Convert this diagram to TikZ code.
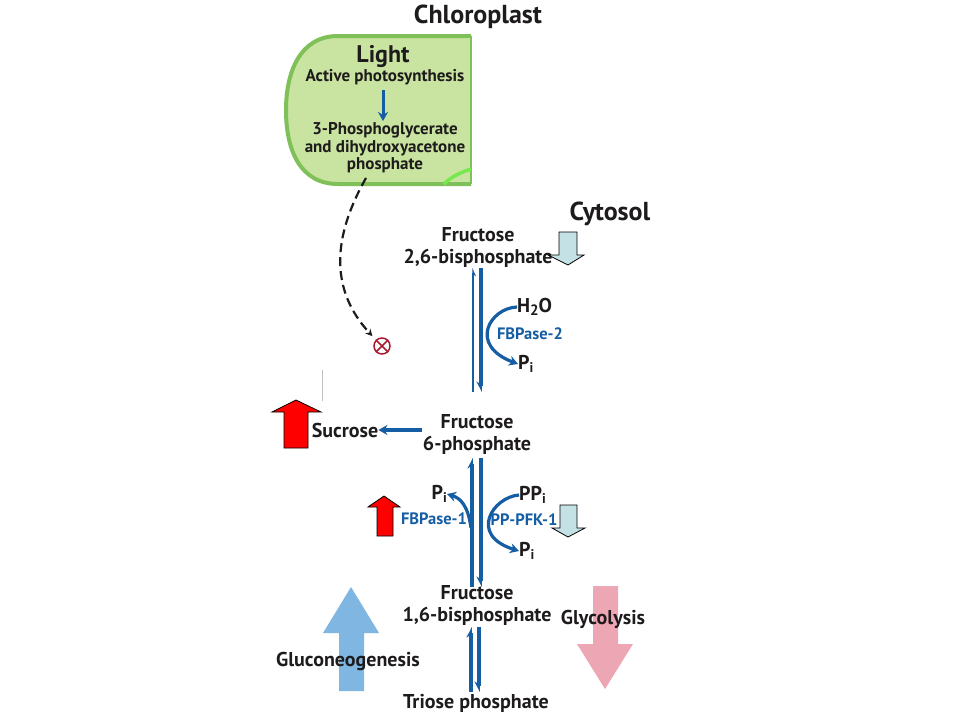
\documentclass[tikz,border=0pt]{standalone}
\usepackage{fontspec}
\setmainfont{PT Sans}
\usetikzlibrary{arrows.meta}
\definecolor{pblue}{RGB}{22,94,164}
\definecolor{txt}{RGB}{30,27,28}
\definecolor{cfill}{RGB}{200,228,160}
\definecolor{cedge}{RGB}{128,192,88}
\definecolor{cbright}{RGB}{120,232,80}
\definecolor{lcyan}{RGB}{196,226,230}
\definecolor{gblue}{RGB}{128,182,226}
\definecolor{gpink}{RGB}{236,166,180}
\definecolor{xred}{RGB}{168,28,48}
\newcommand{\subi}{\raisebox{-0.35ex}{\fontsize{14}{14}\selectfont i}}
\begin{document}
\begin{tikzpicture}[x=1pt,y=-1pt,
  lbl/.style={font=\bfseries\fontsize{20}{22}\selectfont, text=txt, inner sep=0pt, align=center},
  title/.style={font=\bfseries\fontsize{26}{28}\selectfont, text=txt, inner sep=0pt},
  small/.style={font=\bfseries\fontsize{17}{17.5}\selectfont, text=txt, inner sep=0pt, align=center},
  enz/.style={font=\bfseries\fontsize{16.5}{18}\selectfont, text=pblue, inner sep=0pt},
  thickrx/.style={draw=pblue, line width=3.2pt},
  thinrx/.style={draw=pblue, line width=1.2pt},
  harp/.style={-{Stealth[harpoon,length=9pt,width=9pt]}},
  harpsw/.style={-{Stealth[harpoon,swap,length=9pt,width=9pt]}},
  curvearr/.style={draw=pblue, line width=3.2pt, -{Stealth[length=9pt,width=10pt]}},
  redblock/.style={fill=red, draw=black, line width=0.8pt},
  cyanblock/.style={fill=lcyan, draw=black, line width=0.8pt},
]
\useasboundingbox (0,0) rectangle (960,720);

% chloroplast
\draw[line width=4pt, draw=cedge, fill=cfill]
  (471,36) -- (338,36) .. controls (300,36) and (286,72) .. (286,110)
  .. controls (286,150) and (300,184) .. (338,184) -- (471,184);
\fill[cfill] (468,38) rectangle (471,182);
\draw[line width=1.2pt, draw=cedge] (471,36) -- (471,184);
\draw[line width=3.5pt, draw=cbright] (444,184) .. controls (452,176) and (462,172) .. (471,169);

\node[title] (chl) at (478,17) {Chloroplast};
\node[font=\bfseries\fontsize{24}{26}\selectfont, text=txt, inner sep=0pt] (light) at (383,57) {Light};
\node[small] (aps) at (385,77) {Active photosynthesis};
\node[small] (pga) at (385,148) {3-Phosphoglycerate\\and dihydroxyacetone\\phosphate};
\coordinate (a1) at (383,90);
\coordinate (a2) at (383,121);
\draw[draw=pblue, line width=3pt, -{Stealth[length=9pt,width=10pt]}] (a1) -- (a2);

% cytosol
\node[title] (cyt) at (610,214) {Cytosol};
\node[lbl] (f26) at (478,247) {Fructose\\2,6-bisphosphate};
\node[lbl] (f6p) at (477,434) {Fructose\\6-phosphate};
\node[lbl] (f16) at (477,605) {Fructose\\1,6-bisphosphate};
\node[lbl] (tri) at (476,703) {Triose phosphate};
\node[lbl] (suc) at (345,430) {Sucrose};
\node[lbl, anchor=west] (h2o) at (517,307) {H\raisebox{-0.35ex}{\fontsize{15}{15}\selectfont 2}O};
\node[lbl, anchor=west] (pi1) at (518,364) {P\subi};
\node[lbl, anchor=east] (pi2) at (447,494) {P\subi};
\node[lbl, anchor=west] (ppi) at (519,495) {PP\subi};
\node[lbl, anchor=west] (pi3) at (519,551) {P\subi};
\node[enz] (fbp2) at (530,334) {FBPase-2};
\node[enz] (fbp1) at (434,519) {FBPase-1};
\node[enz] (pfk) at (524,520) {PP-PFK-1};

% dashed inhibition
\node[circle, draw=xred, line width=1.5pt, minimum size=16pt, inner sep=0pt] (inh) at (382,346) {};
\draw[xred, line width=1.5pt] (inh.north west) -- (inh.south east) (inh.north east) -- (inh.south west);
\coordinate (d0) at (366,178);
\draw[line width=2.2pt, dash pattern=on 9pt off 5pt, draw=txt, shorten >=5pt, -{Stealth[length=7pt,width=7pt]}]
  (d0) .. controls (332,238) and (330,290) .. (inh.north west);

% vertical reaction arrows
\coordinate (v1t) at (473,268); \coordinate (v1b) at (473,392);
\coordinate (v2t) at (481,268); \coordinate (v2b) at (481,392);
\draw[thinrx, -{Stealth[harpoon,swap,length=7pt,width=6pt]}] (v1b) -- (v1t);
\draw[thickrx, harpsw] (v2t) -- (v2b);
\draw[curvearr] (h2o.west) .. controls (490,308) and (468,345) .. (pi1.west);

\coordinate (w1t) at (472,458); \coordinate (w1b) at (472,587);
\coordinate (w2t) at (481,458); \coordinate (w2b) at (481,587);
\draw[thickrx, harp] (w1b) -- (w1t);
\draw[thickrx, harpsw] (w2t) -- (w2b);
\coordinate (c1) at (471,528);
\draw[curvearr] (c1) .. controls (468,505) and (460,498) .. (pi2.east);
\draw[curvearr] (ppi.west) .. controls (493,497) and (468,535) .. (pi3.west);

\coordinate (x1t) at (471,627); \coordinate (x1b) at (471,692);
\coordinate (x2t) at (479,627); \coordinate (x2b) at (479,692);
\draw[thickrx, harp] (x1b) -- (x1t);
\draw[thickrx, harpsw] (x2t) -- (x2b);

% sucrose arrow
\coordinate (s0) at (422,430);
\draw[thickrx, -{Stealth[length=9pt,width=10pt]}] (s0) -- (suc.east);

% block arrows
\draw[redblock] (284,448) -- (284,412) -- (272,412) -- (296,400) -- (321,412) -- (308,412) -- (308,448) -- cycle;
\draw[redblock] (377,536) -- (377,507) -- (368,507) -- (384,496) -- (400,507) -- (393,507) -- (393,536) -- cycle;
\draw[cyanblock] (559,232) -- (577,232) -- (577,255) -- (584,255) -- (568,265) -- (548,255) -- (559,255) -- cycle;
\draw[cyanblock] (560,505) -- (577,505) -- (577,528) -- (585,528) -- (568,537) -- (552,528) -- (560,528) -- cycle;
\fill[gblue] (339,691) -- (339,633) -- (323,633) -- (351,587) -- (379,633) -- (364,633) -- (364,691) -- cycle;
\fill[gpink] (593,586) -- (618,586) -- (618,644) -- (633,644) -- (605,689) -- (577,644) -- (593,644) -- cycle;
\node[lbl] (glu) at (348,661) {Gluconeogenesis};
\node[lbl] (gly) at (603,619) {Glycolysis};

% faint remnant line
\draw[gray!50, line width=0.6pt] (322,370) -- (322,401);
\end{tikzpicture}
\end{document}
